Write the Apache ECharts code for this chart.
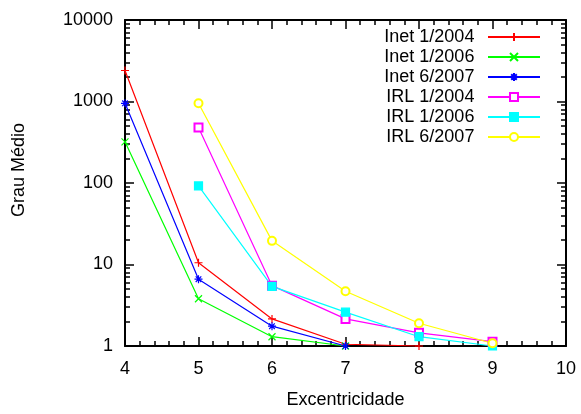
<!DOCTYPE html>
<html><head><meta charset="utf-8">
<script src="https://cdn.jsdelivr.net/npm/echarts@6/dist/echarts.min.js"></script>
<style>html,body{margin:0;padding:0;background:#fff}#c{width:581px;height:414px}</style>
</head><body><div id="c"></div>
<script>
const seriesNames = ['Inet 1/2004','Inet 1/2006','Inet 6/2007','IRL 1/2004','IRL 1/2006','IRL 6/2007'];
const inet2004 = [[4,2400],[5,10.5],[6,2.15],[7,1.05],[8,1.0]];
const inet2006 = [[4,320],[5,3.8],[6,1.3],[7,1.0]];
const inet2007 = [[4,950],[5,6.6],[6,1.75],[7,1.0]];
const irl2004 = [[5,480],[6,5.5],[7,2.15],[8,1.45],[9,1.13]];
const irl2006 = [[5,92],[6,5.4],[7,2.6],[8,1.3],[9,1.0]];
const irl2007 = [[5,950],[6,19.5],[7,4.7],[8,1.9],[9,1.08]];

const FONT = 'Liberation Sans';
const plus = 'path://M0,5L10,5M5,0L5,10';
const cross = 'path://M0,0L10,10M10,0L0,10';
const star = 'path://M0,5L10,5M5,0L5,10M1.5,1.5L8.5,8.5M8.5,1.5L1.5,8.5';

function mk(name, data, color, symbol, size) {
  return {
    name, type: 'line', data, clip: false, xAxisIndex:0, yAxisIndex:0,
    symbol, symbolSize: size, showSymbol: true,
    lineStyle: {color, width: 1.2},
    itemStyle: {color, borderColor: color, borderWidth: 1.2}
  };
}
function ax(extra) {
  return Object.assign({
    axisLine:{show:true, onZero:false, lineStyle:{color:'#000', width:2}},
    axisTick:{show:true, inside:true, length:9, lineStyle:{color:'#000', width:1.5}},
    minorTick:{show:true, splitNumber:5, length:5, lineStyle:{color:'#000', width:1.5}},
    splitLine:{show:false}
  }, extra);
}

const chart = echarts.init(document.getElementById('c'));
chart.setOption({
  animation:false,
  grid:{left:125, right:15, top:20, bottom:59},
  legend:{
    orient:'vertical', right:35, top:23, itemGap:2, align:'right',
    itemWidth:52, itemHeight:10,
    formatter: n => n + ' \u2009',
    textStyle:{fontFamily:FONT, fontSize:18, color:'#000'},
    data: seriesNames
  },
  xAxis:[
    ax({type:'value', min:4, max:10, interval:1, position:'bottom',
      axisLabel:{fontSize:18, color:'#000', margin:14, fontFamily:FONT},
      name:'Excentricidade', nameLocation:'middle', nameGap:45,
      nameTextStyle:{fontSize:18, color:'#000', fontFamily:FONT}}),
    ax({type:'value', min:4, max:10, interval:1, position:'top', axisLabel:{show:false}})
  ],
  yAxis:[
    ax({type:'log', logBase:10, min:1, max:10000, position:'left',
      minorTick:{show:true, splitNumber:9, length:5, lineStyle:{color:'#000', width:1.5}},
      axisLabel:{fontSize:18, color:'#000', margin:12, fontFamily:FONT, formatter: v => String(Math.round(v))},
      name:'Grau Médio', nameLocation:'middle', nameGap:97,
      nameTextStyle:{fontSize:18, color:'#000', fontFamily:FONT, padding:[0,0,0,26]}}),
    ax({type:'log', logBase:10, min:1, max:10000, position:'right',
      minorTick:{show:true, splitNumber:9, length:5, lineStyle:{color:'#000', width:1.5}},
      axisLabel:{show:false}})
  ],
  series:[
    mk(seriesNames[0], inet2004, '#ff0000', plus, 8),
    mk(seriesNames[1], inet2006, '#00ff00', cross, 7),
    mk(seriesNames[2], inet2007, '#0000ff', star, 8),
    mk(seriesNames[3], irl2004, '#ff00ff', 'emptyRect', 8),
    mk(seriesNames[4], irl2006, '#00ffff', 'rect', 8),
    mk(seriesNames[5], irl2007, '#ffff00', 'emptyCircle', 8)
  ]
});
</script></body></html>
